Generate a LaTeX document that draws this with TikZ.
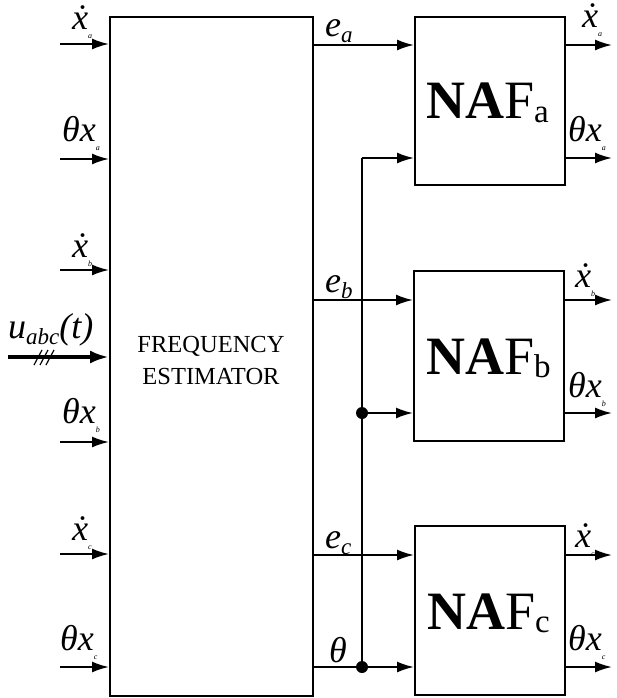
\documentclass[tikz,border=0pt]{standalone}
\usepackage{fontspec}
\setmainfont{Liberation Serif}
\usetikzlibrary{arrows.meta}
\newcommand{\lbl}[1]{\fontsize{36}{36}\selectfont\itshape #1}
\newcommand{\tsub}[1]{\raisebox{-9pt}{\fontsize{8}{8}\selectfont\itshape #1}}
\newcommand{\msub}[1]{\raisebox{-6pt}{\fontsize{23}{23}\selectfont\itshape #1}}
\tikzset{
  blk/.style={draw, line width=2pt, inner sep=0pt},
  arr/.style={line width=2pt, -{Latex[length=17pt,width=11pt]}},
  wire/.style={line width=2pt},
  lab/.style={anchor=base west, inner sep=0pt},
  dotn/.style={circle, fill, inner sep=0pt, minimum size=12pt},
}
\begin{document}
\begin{tikzpicture}[x=1pt,y=-1pt]
\useasboundingbox (0,0) rectangle (616,698);
% blocks
\node[blk, minimum width=203pt, minimum height=679pt] (fe) at (211.5,356.5) {};
\node[blk, minimum width=150pt, minimum height=168pt] (nafa) at (490,101) {};
\node[blk, minimum width=150pt, minimum height=170pt] (nafb) at (489,356) {};
\node[blk, minimum width=150pt, minimum height=169pt] (nafc) at (490,610.5) {};
% block texts
\node[align=center, font=\fontsize{24.5}{32}\selectfont] (fetxt) at (211,361) {FREQUENCY\\ESTIMATOR};
\node[lab] (na) at (426,119) {\fontsize{54}{54}\selectfont\textbf{NA}F\raisebox{-3pt}{\fontsize{33}{33}\selectfont a}};
\node[lab] (nb) at (426,374) {\fontsize{54}{54}\selectfont\textbf{NA}F\raisebox{-3pt}{\fontsize{33}{33}\selectfont b}};
\node[lab] (nc) at (427,629) {\fontsize{54}{54}\selectfont\textbf{NA}F\raisebox{-3pt}{\fontsize{33}{33}\selectfont c}};
% input coordinates
\coordinate (i1) at (60,44);
\coordinate (i2) at (60,159);
\coordinate (i3) at (60,270);
\coordinate (i4) at (8,357);
\coordinate (i5) at (60,442);
\coordinate (i6) at (60,554);
\coordinate (i7) at (60,667);
\foreach \i in {1,2,3,5,6,7} {\draw[arr] (i\i) -- (i\i -| fe.west);}
\draw[line width=4pt, -{Latex[length=19pt,width=13pt]}] (i4) -- (i4 -| fe.west);
\foreach \x in {38,44,50} {\draw[line width=1.2pt] (\x-4,365) -- (\x+4,350);}
% input labels
\node[lab] (l1) at (72,30) {\lbl{\.x}\tsub{a}};
\node[lab] (l2) at (62,142) {\lbl{θx}\tsub{a}};
\node[lab] (l3) at (72,257) {\lbl{\.x}\tsub{b}};
\node[lab] (l4) at (8,338) {\lbl{u}\msub{abc}\lbl{(t)}};
\node[lab] (l5) at (62,423) {\lbl{θx}\tsub{b}};
\node[lab] (l6) at (72,540) {\lbl{\.x}\tsub{c}};
\node[lab] (l7) at (60,650) {\lbl{θx}\tsub{c}};
% e lines
\coordinate (ea) at (fe.east |- 0,45);
\coordinate (eb) at (fe.east |- 0,300);
\coordinate (ec) at (fe.east |- 0,555);
\coordinate (th) at (fe.east |- 0,667);
\draw[arr] (ea) -- (ea -| nafa.west);
\draw[arr] (eb) -- (eb -| nafb.west);
\draw[arr] (ec) -- (ec -| nafc.west);
\draw[arr] (th) -- (th -| nafc.west);
\node[lab] (lea) at (325,37) {\lbl{e}\msub{a}};
\node[lab] (leb) at (325,292) {\lbl{e}\msub{b}};
\node[lab] (lec) at (325,548) {\lbl{e}\msub{c}};
\node[lab] (lth) at (329,662) {\lbl{θ}};
% theta bus
\coordinate (bt) at (362,158);
\node[dotn] (d1) at (362,413) {};
\node[dotn] (d2) at (362,667) {};
\draw[wire] (d2.center) -- (bt);
\draw[arr] (bt) -- (bt -| nafa.west);
\draw[arr] (d1.center) -- (d1 -| nafb.west);
% outputs
\coordinate (o1) at (612,45);
\coordinate (o2) at (612,158);
\coordinate (o3) at (612,300);
\coordinate (o4) at (612,413);
\coordinate (o5) at (612,555);
\coordinate (o6) at (612,667);
\draw[arr] (o1 -| nafa.east) -- (o1);
\draw[arr] (o2 -| nafa.east) -- (o2);
\draw[arr] (o3 -| nafb.east) -- (o3);
\draw[arr] (o4 -| nafb.east) -- (o4);
\draw[arr] (o5 -| nafc.east) -- (o5);
\draw[arr] (o6 -| nafc.east) -- (o6);
\node[lab] (r1) at (582,28) {\lbl{\.x}\tsub{a}};
\node[lab] (r2) at (568,142) {\lbl{θx}\tsub{a}};
\node[lab] (r3) at (575,287) {\lbl{\.x}\tsub{b}};
\node[lab] (r4) at (568,397) {\lbl{θx}\tsub{b}};
\node[lab] (r5) at (575,547) {\lbl{\.x}\tsub{c}};
\node[lab] (r6) at (568,650) {\lbl{θx}\tsub{c}};
\end{tikzpicture}
\end{document}
